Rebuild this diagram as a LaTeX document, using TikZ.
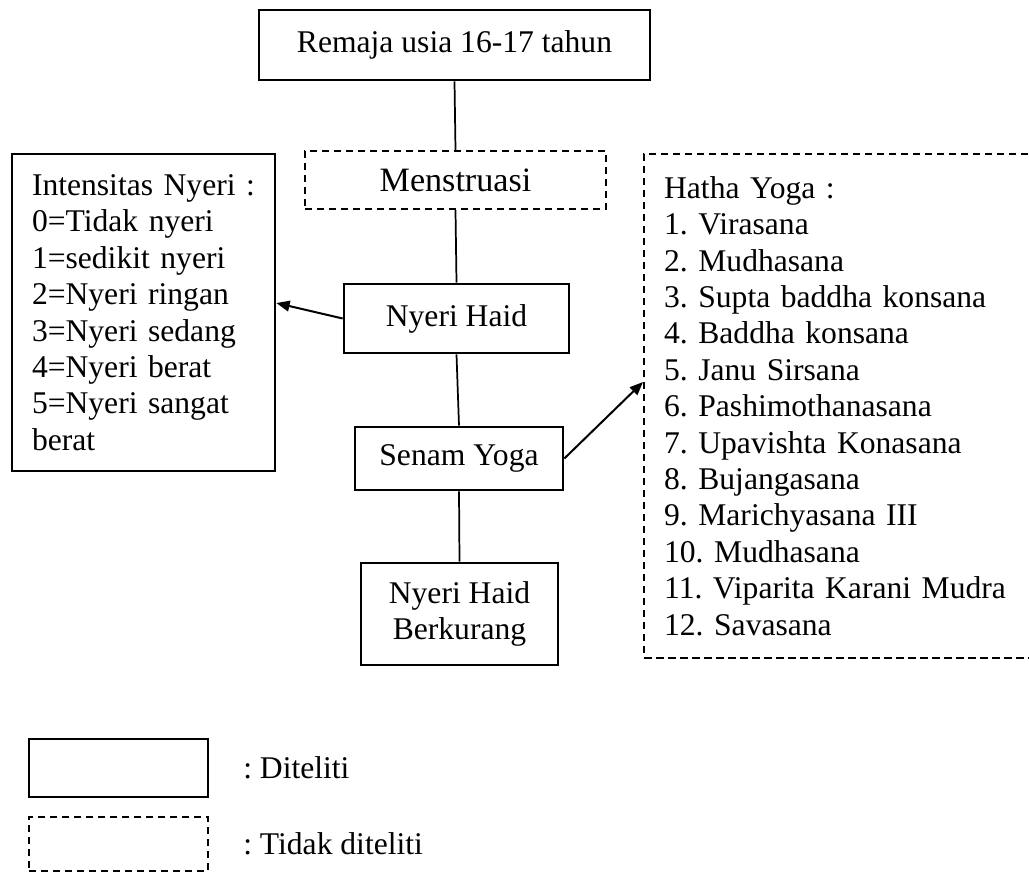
\documentclass[tikz,border=0pt]{standalone}
\usepackage{fontspec}
\setmainfont{Liberation Serif}
\usetikzlibrary{arrows.meta}
\begin{document}
\frenchspacing
\begin{tikzpicture}[x=0.75pt,y=-0.75pt,
  every node/.style={font={\fontsize{23.7pt}{27.3pt}\selectfont\frenchspacing}, inner sep=0pt},
  solidbox/.style={draw, line width=2pt},
  dashbox/.style={draw, line width=1.7pt, dash pattern=on 5.6pt off 3.4pt},
  conn/.style={line width=1.3pt},
  arr/.style={line width=1.5pt, -{Triangle[length=10pt,width=8pt]}},
  listbox/.style={align=left, inner xsep=15pt}
]
\clip (0,0) rectangle (1029,873);
\fill[white] (0,0) rectangle (1029,873);

\node[solidbox, minimum width=293.25pt, minimum height=52.5pt] (R) at (454.5,45) {Remaja usia 16-17 tahun};
\node[dashbox, minimum width=225.75pt, minimum height=43.5pt, font={\fontsize{25.6pt}{29pt}\selectfont}] (M) at (455.5,180) {Menstruasi};
\node[solidbox, minimum width=168.75pt, minimum height=51.75pt] (NH) at (456.5,318.5) {Nyeri Haid};
\node[solidbox, minimum width=156pt, minimum height=47.25pt] (SY) at (459,458.5) {Senam Yoga};
\node[solidbox, minimum width=147.75pt, minimum height=76.5pt, align=center] (NHB) at (459.5,614) {Nyeri Haid\\Berkurang};

\node[solidbox, listbox, text width=167.25pt, minimum height=237.75pt] (I) at (143.5,312.5)
 {\mbox{Intensitas Nyeri :}\\\mbox{0=Tidak nyeri}\\\mbox{1=sedikit nyeri}\\\mbox{2=Nyeri ringan}\\\mbox{3=Nyeri sedang}\\\mbox{4=Nyeri berat}\\\mbox{5=Nyeri sangat}\\berat};

\node[dashbox, listbox, text width=285pt, minimum height=378pt, anchor=west] (H) at (643,406)
 {Hatha Yoga :\\1. Virasana\\2. Mudhasana\\3. Supta baddha konsana\\4. Baddha konsana\\5. Janu Sirsana\\6. Pashimothanasana\\7. Upavishta Konasana\\8. Bujangasana\\9. Marichyasana III\\10. Mudhasana\\11. Viparita Karani Mudra\\12. Savasana};

\draw[conn] (R.south) -- (M.north);
\draw[conn] (M.south) -- (NH.north);
\draw[conn] (NH.south) -- (SY.north);
\draw[conn] (SY.south) -- (NHB.north);
\draw[arr] (NH.west) -- ([yshift=7.1pt]I.east);
\draw[arr] (SY.east) -- ([yshift=18pt]H.west);

\node[solidbox, minimum width=134.25pt, minimum height=43.5pt] (L1) at (118.5,768) {};
\node[dashbox, minimum width=134.25pt, minimum height=40.5pt] (L2) at (118.5,844) {};
\node[anchor=west] (T1) at (243,768) {: Diteliti};
\node[anchor=west] (T2) at (243,844) {: Tidak diteliti};
\end{tikzpicture}
\end{document}
